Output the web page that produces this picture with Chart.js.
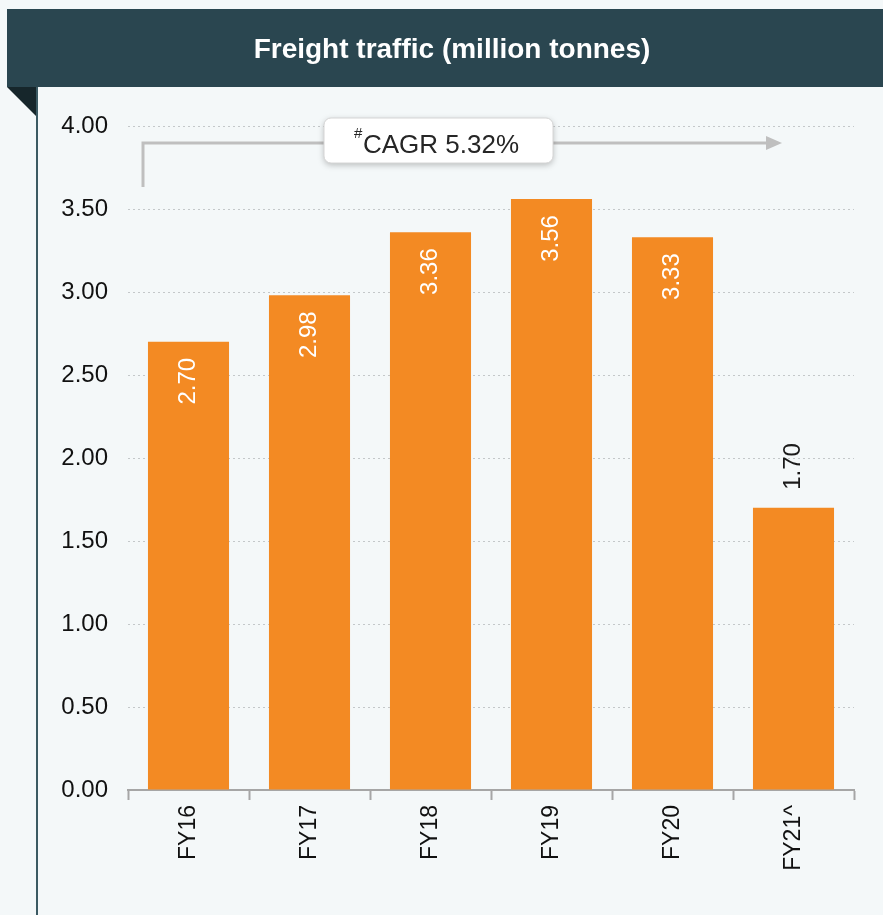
<!DOCTYPE html>
<html>
<head>
<meta charset="utf-8">
<script src="https://cdn.jsdelivr.net/npm/chart.js@4/dist/chart.umd.min.js"></script>
<style>
  html, body { margin: 0; padding: 0; background: #f4f8f9; }
  #wrap { width: 883px; height: 915px; position: relative; }
</style>
</head>
<body>
<div id="wrap"><canvas id="myChart" width="883" height="915"></canvas></div>
<script>
// data
const years = ['FY16', 'FY17', 'FY18', 'FY19', 'FY20', 'FY21^'];
const freight = [2.70, 2.98, 3.36, 3.56, 3.33, 1.70];
const yTicks = [0, 0.5, 1, 1.5, 2, 2.5, 3, 3.5, 4];
const chartTitle = 'Freight traffic (million tonnes)';
const cagrText = 'CAGR 5.32%';

const FONT = '"Liberation Sans", Arial, sans-serif';

// header band, folded corner and left rule
const frame = {
  id: 'frame',
  beforeDraw(chart) {
    const c = chart.ctx;
    c.save();
    c.fillStyle = '#f4f8f9';
    c.fillRect(0, 0, chart.width, chart.height);
    c.fillStyle = '#2a4650';
    c.fillRect(7, 9, chart.width - 7, 78);
    c.fillStyle = '#16262b';
    c.beginPath();
    c.moveTo(7, 87); c.lineTo(37, 87); c.lineTo(37, 117); c.closePath();
    c.fill();
    c.strokeStyle = '#3b5a63';
    c.lineWidth = 2;
    c.beginPath();
    c.moveTo(37, 87); c.lineTo(37, chart.height);
    c.stroke();
    c.fillStyle = '#ffffff';
    c.font = 'bold 28px ' + FONT;
    c.textAlign = 'center';
    c.textBaseline = 'middle';
    c.fillText(chartTitle, 452, 50);
    c.restore();
  }
};

// CAGR arrow with a label box
const cagr = {
  id: 'cagr',
  afterDatasetsDraw(chart) {
    const c = chart.ctx;
    const a = chart.chartArea;
    const y = a.top + 17;
    const x0 = a.left + 15, x1 = a.right - 86;
    c.save();
    c.strokeStyle = '#bfbfbf';
    c.fillStyle = '#bfbfbf';
    c.lineWidth = 3;
    c.beginPath();
    c.moveTo(x0, y + 44); c.lineTo(x0, y); c.lineTo(x1, y);
    c.stroke();
    c.beginPath();
    c.moveTo(x1 - 2, y - 7); c.lineTo(x1 + 14, y); c.lineTo(x1 - 2, y + 7); c.closePath();
    c.fill();

    const bx = 324, bw = 229, by = y - 25, bh = 45;
    c.shadowColor = 'rgba(0,0,0,0.25)';
    c.shadowBlur = 6;
    c.shadowOffsetY = 2;
    c.fillStyle = '#ffffff';
    c.beginPath();
    c.roundRect(bx, by, bw, bh, 7);
    c.fill();
    c.shadowColor = 'transparent';
    c.strokeStyle = '#d6d6d6';
    c.lineWidth = 1;
    c.stroke();

    c.fillStyle = '#262626';
    c.textBaseline = 'alphabetic';
    c.textAlign = 'left';
    c.font = '15px ' + FONT;
    c.fillText('#', 354, y - 5);
    c.font = '26px ' + FONT;
    c.fillText(cagrText, 363, y + 10);
    c.restore();
  }
};

// rotated value labels on the bars
const barLabels = {
  id: 'barLabels',
  afterDatasetsDraw(chart) {
    const c = chart.ctx;
    const meta = chart.getDatasetMeta(0);
    c.save();
    c.font = '24px ' + FONT;
    c.textBaseline = 'middle';
    meta.data.forEach((bar, i) => {
      const v = freight[i];
      const inside = v >= 2;
      c.save();
      c.translate(bar.x, bar.y);
      c.rotate(-Math.PI / 2);
      if (inside) {
        c.fillStyle = '#ffffff';
        c.textAlign = 'right';
        c.fillText(v.toFixed(2), -16, 0);
      } else {
        c.fillStyle = '#1a1a1a';
        c.textAlign = 'left';
        c.fillText(v.toFixed(2), 18, 0);
      }
      c.restore();
    });
    c.restore();
  }
};

new Chart(document.getElementById('myChart'), {
  type: 'bar',
  data: {
    labels: years,
    datasets: [{
      label: chartTitle,
      data: freight,
      backgroundColor: '#f38a23',
      borderWidth: 0,
      barPercentage: 0.67,
      categoryPercentage: 1.0
    }]
  },
  options: {
    responsive: false,
    animation: false,
    layout: { padding: { top: 126, right: 29, left: 0, bottom: 0 } },
    plugins: {
      legend: { display: false },
      tooltip: { enabled: false },
      title: { display: false }
    },
    scales: {
      x: {
        grid: {
          display: true,
          drawOnChartArea: false,
          offset: true,
          tickLength: 10,
          tickWidth: 2,
          tickColor: '#a6a6a6'
        },
        border: { display: true, color: '#a6a6a6', width: 2 },
        ticks: {
          color: '#111111',
          font: { family: FONT, size: 23 },
          minRotation: 90,
          maxRotation: 90,
          padding: 5
        },
        afterFit(s) { s.height = 125; }
      },
      y: {
        min: 0,
        max: 4,
        afterBuildTicks(s) { s.ticks = yTicks.map(v => ({ value: v })); },
        grid: {
          color: '#c4c8ca',
          lineWidth: 1,
          drawTicks: false
        },
        border: { display: false, dash: [2, 3] },
        ticks: {
          color: '#111111',
          font: { family: FONT, size: 24 },
          padding: 20,
          callback: v => Number(v).toFixed(2)
        },
        afterFit(s) { s.width = 128; }
      }
    }
  },
  plugins: [frame, cagr, barLabels]
});
</script>
</body>
</html>
